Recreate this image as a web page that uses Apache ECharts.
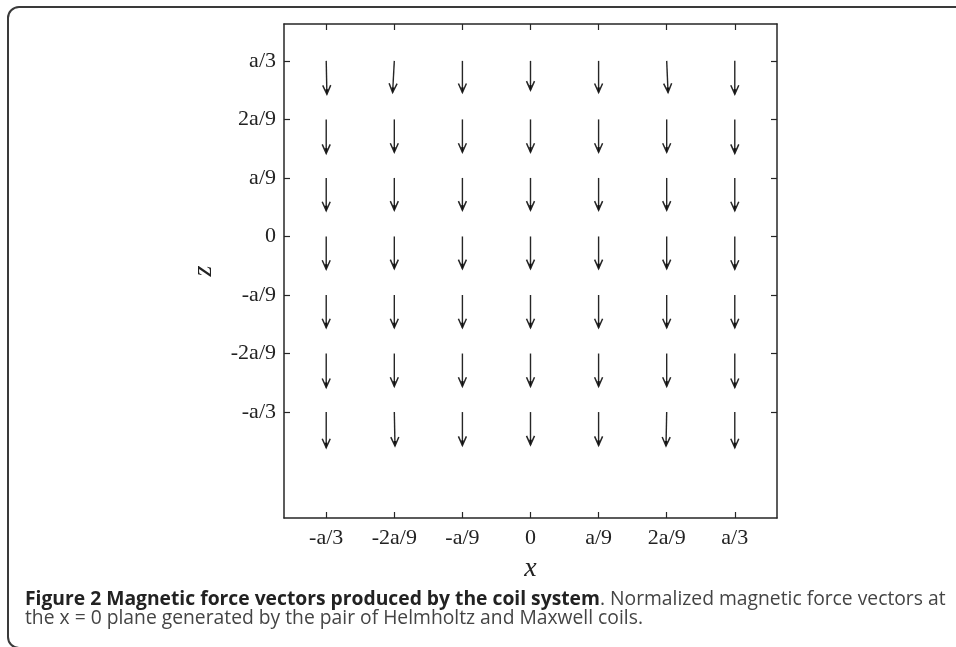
<!DOCTYPE html>
<html>
<head>
<meta charset="utf-8">
<title>Magnetic force vectors</title>
<script src="https://cdn.jsdelivr.net/npm/echarts@6/dist/echarts.min.js"></script>
<style>
  html, body { margin: 0; padding: 0; background: #fff; }
  #container { width: 956px; height: 647px; }
</style>
</head>
<body>
<div id="container"></div>
<script type="text/javascript">
    // grid positions in units of a/9
    var xs = [-3, -2, -1, 0, 1, 2, 3];
    var zs = [3, 2, 1, 0, -1, -2, -3];
    var tickLabels = ['-a/3', '-2a/9', '-a/9', '0', 'a/9', '2a/9', 'a/3'];

    // force components (rows follow zs, columns follow xs)
    var u = [
        [0.01, -0.025, 0, 0, 0, 0.02, 0],
        [0, 0, 0, 0, 0, 0, 0],
        [0, 0, 0, 0, 0, 0, 0],
        [0, 0, 0, 0, 0, 0, 0],
        [0, 0, 0, 0, 0, 0, 0],
        [0, 0, 0, 0, 0, 0, 0],
        [0, 0.01, 0, 0, 0, -0.01, 0]
    ];
    var v = [
        [-0.57, -0.54, -0.54, -0.50, -0.54, -0.54, -0.57],
        [-0.58, -0.56, -0.56, -0.56, -0.56, -0.56, -0.58],
        [-0.56, -0.55, -0.55, -0.55, -0.55, -0.55, -0.56],
        [-0.56, -0.55, -0.55, -0.55, -0.55, -0.55, -0.56],
        [-0.56, -0.56, -0.56, -0.56, -0.56, -0.56, -0.56],
        [-0.58, -0.56, -0.56, -0.56, -0.56, -0.56, -0.58],
        [-0.61, -0.58, -0.57, -0.56, -0.57, -0.58, -0.61]
    ];

    var captionBold = 'Figure 2 Magnetic force vectors produced by the coil system';
    var captionRest = '. Normalized magnetic force vectors at';
    var captionLine2 = 'the x = 0 plane generated by the pair of Helmholtz and Maxwell coils.';

    var quiver = [];
    for (var i = 0; i < zs.length; i++) {
        for (var j = 0; j < xs.length; j++) {
            quiver.push([xs[j], zs[i], u[i][j], v[i][j]]);
        }
    }

    function tickText(val) {
        var k = xs.indexOf(Math.round(val));
        return k >= 0 ? tickLabels[k] : '';
    }

    var ink = '#262626';
    var lblFont = { fontFamily: 'Liberation Serif', fontSize: 22, color: '#222' };

    function makeAxis(pos, isX, main) {
        return {
            type: 'value',
            position: pos,
            min: isX ? -3.62 : -4.81,
            max: isX ? 3.62 : 3.63,
            splitLine: { show: false },
            axisLine: { show: true, onZero: false, lineStyle: { color: ink, width: 1.5 } },
            axisTick: { show: true, inside: true, length: 6, customValues: xs, lineStyle: { color: ink, width: 1.2 } },
            axisLabel: main ? {
                show: true,
                customValues: xs,
                formatter: tickText,
                margin: isX ? 9 : 8,
                fontFamily: lblFont.fontFamily,
                fontSize: lblFont.fontSize,
                color: lblFont.color
            } : { show: false }
        };
    }

    var xMain = makeAxis('bottom', true, true);
    xMain.name = 'x';
    xMain.nameLocation = 'middle';
    xMain.nameGap = 37;
    xMain.nameTextStyle = { fontFamily: 'Liberation Serif', fontStyle: 'italic', fontSize: 28, color: '#222' };

    var yMain = makeAxis('left', false, true);
    yMain.name = 'z';
    yMain.nameLocation = 'middle';
    yMain.nameRotate = 90;
    yMain.nameGap = 66;
    yMain.nameTextStyle = { fontFamily: 'Liberation Serif', fontStyle: 'italic', fontSize: 28, color: '#222' };

    var mychart = echarts.init(document.getElementById('container'), null, { renderer: 'canvas' });

    var options = {
        backgroundColor: '#fff',
        animation: false,
        grid: { left: 284, top: 24, right: 179, bottom: 129, containLabel: false },
        xAxis: [xMain, makeAxis('top', true, false)],
        yAxis: [yMain, makeAxis('right', false, false)],
        graphic: [
            {
                type: 'rect',
                silent: true,
                shape: { x: 8, y: 7, width: 1000, height: 641, r: 11 },
                style: { fill: null, stroke: '#3a3a3a', lineWidth: 2 }
            },
            {
                type: 'text',
                left: 25,
                top: 590,
                style: {
                    text: '{b|' + captionBold + '}{n|' + captionRest + '}',
                    rich: {
                        b: { fontFamily: 'Open Sans', fontWeight: 'bold', fontSize: 19.3, fill: '#222' },
                        n: { fontFamily: 'Open Sans', fontSize: 19.3, fill: '#444' }
                    }
                }
            },
            {
                type: 'text',
                left: 25,
                top: 609,
                style: {
                    text: captionLine2,
                    fontFamily: 'Open Sans',
                    fontSize: 19.3,
                    fill: '#444'
                }
            }
        ],
        series: [{
            type: 'custom',
            xAxisIndex: 0,
            yAxisIndex: 0,
            data: quiver,
            renderItem: function (params, api) {
                var p0 = api.coord([api.value(0), api.value(1)]);
                var p1 = api.coord([api.value(0) + api.value(2), api.value(1) + api.value(3)]);
                var dx = p1[0] - p0[0], dy = p1[1] - p0[1];
                var len = Math.sqrt(dx * dx + dy * dy) || 1;
                var ux = dx / len, uy = dy / len;
                var hl = 9, hw = 4;
                var b = [p1[0] - ux * hl, p1[1] - uy * hl];
                var l = [b[0] - uy * hw, b[1] + ux * hw];
                var r = [b[0] + uy * hw, b[1] - ux * hw];
                return {
                    type: 'group',
                    children: [
                        { type: 'line', shape: { x1: p0[0], y1: p0[1], x2: p1[0], y2: p1[1] },
                          style: { stroke: ink, lineWidth: 1.4 } },
                        { type: 'polyline', shape: { points: [l, p1, r] },
                          style: { stroke: ink, lineWidth: 1.5, fill: null } },
                        { type: 'polygon', shape: { points: [[p1[0] - uy * 1.5 - ux * 5, p1[1] + ux * 1.5 - uy * 5], p1, [p1[0] + uy * 1.5 - ux * 5, p1[1] - ux * 1.5 - uy * 5]] },
                          style: { fill: '#111', stroke: null } }
                    ]
                };
            }
        }]
    };

    mychart.setOption(options);
</script>
</body>
</html>
